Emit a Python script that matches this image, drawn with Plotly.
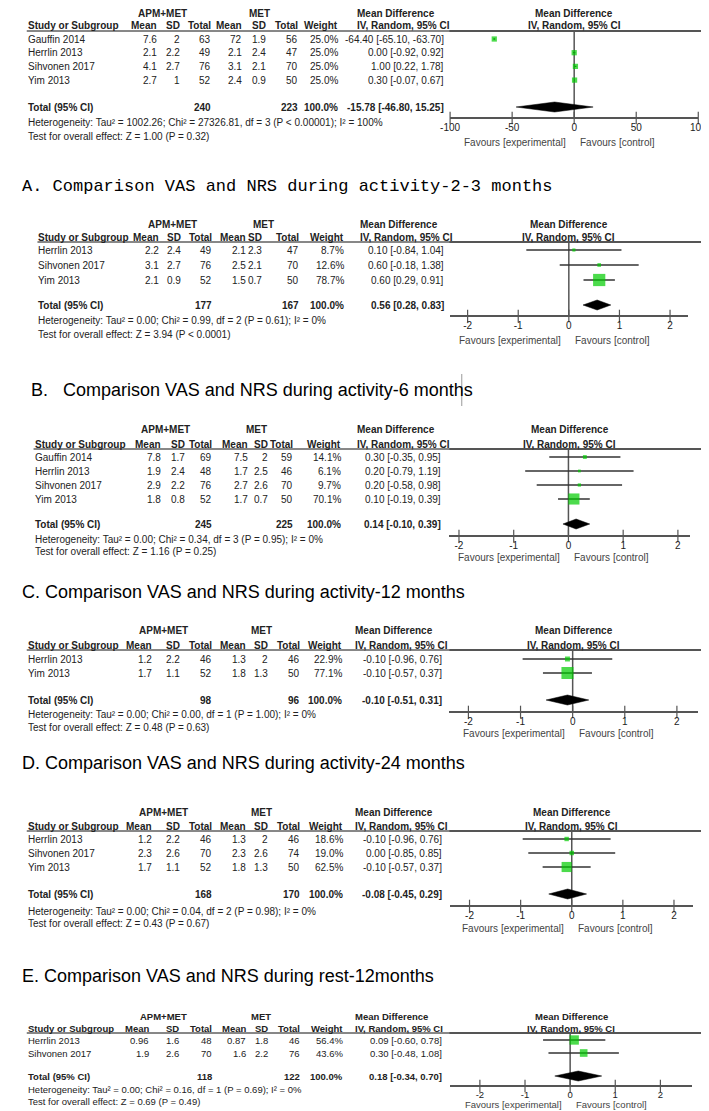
import plotly.graph_objects as go

W, H = 709, 1111

# ---------------- data ----------------
# Panel 0 (untitled, top)
p0_studies = ["Gauffin 2014", "Herrlin 2013", "Sihvonen 2017", "Yim 2013"]
p0_exp_mean = [7.6, 2.1, 4.1, 2.7]
p0_exp_sd = [2, 2.2, 2.7, 1]
p0_exp_n = [63, 49, 76, 52]
p0_ctl_mean = [72, 2.1, 3.1, 2.4]
p0_ctl_sd = [1.9, 2.4, 2.1, 0.9]
p0_ctl_n = [56, 47, 70, 50]
p0_weight = [25.0, 25.0, 25.0, 25.0]
p0_md = [-64.40, 0.00, 1.00, 0.30]
p0_lo = [-65.10, -0.92, 0.22, -0.07]
p0_hi = [-63.70, 0.92, 1.78, 0.67]
p0_total = [240, 223]
p0_pooled = [-15.78, -46.80, 15.25]
p0_het = "Heterogeneity: Tau² = 1002.26; Chi² = 27326.81, df = 3 (P < 0.00001); I² = 100%"
p0_test = "Test for overall effect: Z = 1.00 (P = 0.32)"
p0_ticks = [-100, -50, 0, 50, 100]

# Panel A
a_title = "A. Comparison VAS and NRS during activity-2-3 months"
a_studies = ["Herrlin 2013", "Sihvonen 2017", "Yim 2013"]
a_exp_mean = [2.2, 3.1, 2.1]
a_exp_sd = [2.4, 2.7, 0.9]
a_exp_n = [49, 76, 52]
a_ctl_mean = [2.1, 2.5, 1.5]
a_ctl_sd = [2.3, 2.1, 0.7]
a_ctl_n = [47, 70, 50]
a_weight = [8.7, 12.6, 78.7]
a_md = [0.10, 0.60, 0.60]
a_lo = [-0.84, -0.18, 0.29]
a_hi = [1.04, 1.38, 0.91]
a_total = [177, 167]
a_pooled = [0.56, 0.28, 0.83]
a_het = "Heterogeneity: Tau² = 0.00; Chi² = 0.99, df = 2 (P = 0.61); I² = 0%"
a_test = "Test for overall effect: Z = 3.94 (P < 0.0001)"

# Panel B
b_title = "B.\u00a0\u00a0\u00a0Comparison VAS and NRS during activity-6 months"
b_studies = ["Gauffin 2014", "Herrlin 2013", "Sihvonen 2017", "Yim 2013"]
b_exp_mean = [7.8, 1.9, 2.9, 1.8]
b_exp_sd = [1.7, 2.4, 2.2, 0.8]
b_exp_n = [69, 48, 76, 52]
b_ctl_mean = [7.5, 1.7, 2.7, 1.7]
b_ctl_sd = [2, 2.5, 2.6, 0.7]
b_ctl_n = [59, 46, 70, 50]
b_weight = [14.1, 6.1, 9.7, 70.1]
b_md = [0.30, 0.20, 0.20, 0.10]
b_lo = [-0.35, -0.79, -0.58, -0.19]
b_hi = [0.95, 1.19, 0.98, 0.39]
b_total = [245, 225]
b_pooled = [0.14, -0.10, 0.39]
b_het = "Heterogeneity: Tau² = 0.00; Chi² = 0.34, df = 3 (P = 0.95); I² = 0%"
b_test = "Test for overall effect: Z = 1.16 (P = 0.25)"

# Panel C
c_title = "C. Comparison VAS and NRS during activity-12 months"
c_studies = ["Herrlin 2013", "Yim 2013"]
c_exp_mean = [1.2, 1.7]
c_exp_sd = [2.2, 1.1]
c_exp_n = [46, 52]
c_ctl_mean = [1.3, 1.8]
c_ctl_sd = [2, 1.3]
c_ctl_n = [46, 50]
c_weight = [22.9, 77.1]
c_md = [-0.10, -0.10]
c_lo = [-0.96, -0.57]
c_hi = [0.76, 0.37]
c_total = [98, 96]
c_pooled = [-0.10, -0.51, 0.31]
c_het = "Heterogeneity: Tau² = 0.00; Chi² = 0.00, df = 1 (P = 1.00); I² = 0%"
c_test = "Test for overall effect: Z = 0.48 (P = 0.63)"

# Panel D
d_title = "D. Comparison VAS and NRS during activity-24 months"
d_studies = ["Herrlin 2013", "Sihvonen 2017", "Yim 2013"]
d_exp_mean = [1.2, 2.3, 1.7]
d_exp_sd = [2.2, 2.6, 1.1]
d_exp_n = [46, 70, 52]
d_ctl_mean = [1.3, 2.3, 1.8]
d_ctl_sd = [2, 2.6, 1.3]
d_ctl_n = [46, 74, 50]
d_weight = [18.6, 19.0, 62.5]
d_md = [-0.10, 0.00, -0.10]
d_lo = [-0.96, -0.85, -0.57]
d_hi = [0.76, 0.85, 0.37]
d_total = [168, 170]
d_pooled = [-0.08, -0.45, 0.29]
d_het = "Heterogeneity: Tau² = 0.00; Chi² = 0.04, df = 2 (P = 0.98); I² = 0%"
d_test = "Test for overall effect: Z = 0.43 (P = 0.67)"

# Panel E
e_title = "E. Comparison VAS and NRS during rest-12months"
e_studies = ["Herrlin 2013", "Sihvonen 2017"]
e_exp_mean = [0.96, 1.9]
e_exp_sd = [1.6, 2.6]
e_exp_n = [48, 70]
e_ctl_mean = [0.87, 1.6]
e_ctl_sd = [1.8, 2.2]
e_ctl_n = [46, 76]
e_weight = [56.4, 43.6]
e_md = [0.09, 0.30]
e_lo = [-0.60, -0.48]
e_hi = [0.78, 1.08]
e_total = [118, 122]
e_pooled = [0.18, -0.34, 0.70]
e_het = "Heterogeneity: Tau² = 0.00; Chi² = 0.16, df = 1 (P = 0.69); I² = 0%"
e_test = "Test for overall effect: Z = 0.69 (P = 0.49)"

small_ticks = [-2, -1, 0, 1, 2]
total_weight = 100.0

# --------------- build panel records from the arrays ---------------
def rec(title, studies, em, es, en, cm, cs, cn, w, md, lo, hi, tot, pooled, het, test, ticks):
    return dict(title=title, studies=studies, em=em, es=es, en=en, cm=cm, cs=cs, cn=cn,
                w=w, md=md, lo=lo, hi=hi, tot=tot, pooled=pooled, het=het, test=test, ticks=ticks)

data = [
    rec(None, p0_studies, p0_exp_mean, p0_exp_sd, p0_exp_n, p0_ctl_mean, p0_ctl_sd, p0_ctl_n,
        p0_weight, p0_md, p0_lo, p0_hi, p0_total, p0_pooled, p0_het, p0_test, p0_ticks),
    rec(a_title, a_studies, a_exp_mean, a_exp_sd, a_exp_n, a_ctl_mean, a_ctl_sd, a_ctl_n,
        a_weight, a_md, a_lo, a_hi, a_total, a_pooled, a_het, a_test, small_ticks),
    rec(b_title, b_studies, b_exp_mean, b_exp_sd, b_exp_n, b_ctl_mean, b_ctl_sd, b_ctl_n,
        b_weight, b_md, b_lo, b_hi, b_total, b_pooled, b_het, b_test, small_ticks),
    rec(c_title, c_studies, c_exp_mean, c_exp_sd, c_exp_n, c_ctl_mean, c_ctl_sd, c_ctl_n,
        c_weight, c_md, c_lo, c_hi, c_total, c_pooled, c_het, c_test, small_ticks),
    rec(d_title, d_studies, d_exp_mean, d_exp_sd, d_exp_n, d_ctl_mean, d_ctl_sd, d_ctl_n,
        d_weight, d_md, d_lo, d_hi, d_total, d_pooled, d_het, d_test, small_ticks),
    rec(e_title, e_studies, e_exp_mean, e_exp_sd, e_exp_n, e_ctl_mean, e_ctl_sd, e_ctl_n,
        e_weight, e_md, e_lo, e_hi, e_total, e_pooled, e_het, e_test, small_ticks),
]

# --------------- layout (pixel positions, styles) ---------------
geo = [
    dict(title_y=None, title_x=3, h1=5, h2=17, line=23, row0=31, step=13.7, total=99, axis=110,
         het=114, test=128, fav=134, sx=9, cols=[144, 167, 199, 231, 256, 289, 330], ci=439,
         cihdr=347, apm=148, met=248, dom=[444, 699], rng=[-100, 100]),
    dict(title_y=178, title_x=3, h1=216, h2=229, line=234, row0=242, step=15, total=297, axis=308,
         het=312, test=326, fav=332, sx=20, cols=[146, 168, 200, 235, 252, 290, 336], ci=439,
         cihdr=350, apm=159, met=252, dom=[444, 688], rng=[-2.346, 2.346]),
    dict(title_y=382, title_x=12, h1=421, h2=436, line=441, row0=449, step=14, total=516, axis=528,
         het=531, test=543, fav=549, sx=16, cols=[148, 173, 200, 237, 258, 284, 333], ci=436,
         cihdr=347, apm=152, met=245, dom=[443, 691], rng=[-2.18, 2.23]),
    dict(title_y=584, title_x=3, h1=622, h2=637, line=642, row0=651, step=14, total=692, axis=704,
         het=706, test=719, fav=725, sx=9, cols=[139, 167, 200, 235, 258, 291, 334], ci=437,
         cihdr=345, apm=149, met=250, dom=[443, 699], rng=[-2.37, 2.41]),
    dict(title_y=755, title_x=3, h1=804, h2=818, line=823, row0=831, step=14, total=886, axis=898,
         het=903, test=915, fav=920, sx=9, cols=[139, 167, 200, 235, 258, 291, 335], ci=437,
         cihdr=345, apm=150, met=250, dom=[444, 694], rng=[-2.38, 2.38]),
    dict(title_y=968, title_x=3, h1=1008, h2=1020, line=1025, row0=1032, step=13, total=1068, axis=1078,
         het=1081, test=1093, fav=1096, sx=9, cols=[136, 166, 200, 235, 258, 291, 335], ci=437,
         cihdr=345, apm=150, met=250, dom=[444, 693], rng=[-2.66, 2.71]),
]

SANS = "Liberation Sans, Arial, sans-serif"
MONO = "Liberation Mono, Courier New, monospace"
TXT = "#222222"
GREEN = "#00cc00"
AXC = "#555555"

fig = go.Figure()
ann = []
shapes = []


def T(x, y, text, anchor="left", size=10, bold=False, color=TXT, family=SANS,
      xref="x", yref="y", xshift=0):
    if bold:
        text = f"<b>{text}</b>"
    ann.append(dict(x=x, y=y, xref=xref, yref=yref, text=text, showarrow=False,
                    xanchor=anchor, yanchor="middle", xshift=xshift, borderpad=0,
                    font=dict(size=size, color=color, family=family)))


layout = dict(
    width=W, height=H, margin=dict(l=0, r=0, t=0, b=0),
    paper_bgcolor="white", plot_bgcolor="rgba(0,0,0,0)", showlegend=False,
    xaxis=dict(domain=[0, 1], range=[0, W], visible=False, fixedrange=True),
    yaxis=dict(domain=[0, 1], range=[H, 0], visible=False, fixedrange=True),
)

# invisible anchor trace for the canvas axes
fig.add_trace(go.Scatter(x=[0], y=[0], mode="markers", marker=dict(opacity=0),
                         hoverinfo="skip", showlegend=False))

for i, (d, g) in enumerate(zip(data, geo)):
    k = i + 2
    xr = f"x{k}"
    small = (i == 5)
    fs = 9.5 if small else 10

    # title
    if d["title"] is not None:
        fam = MONO if i == 1 else SANS
        sz = 17 if i == 1 else 18
        T(g["title_x"], g["title_y"], d["title"], size=sz, color="#000000", family=fam)

    # header row 1
    T(g["apm"], g["h1"], "APM+MET", anchor="center", bold=True, size=fs)
    T(g["met"], g["h1"], "MET", anchor="center", bold=True, size=fs)
    T(g["cihdr"], g["h1"], "Mean Difference", bold=True, size=fs)
    plot_c = (g["dom"][0] + g["dom"][1]) / 2
    T(plot_c, g["h1"], "Mean Difference", anchor="center", bold=True, size=fs)

    # header row 2
    T(g["sx"], g["h2"], "Study or Subgroup", bold=True, size=fs)
    for cx, lab in zip(g["cols"], ["Mean", "SD", "Total", "Mean", "SD", "Total", "Weight"]):
        T(cx, g["h2"], lab, anchor="right", bold=True, size=fs)
    T(g["cihdr"], g["h2"], "IV, Random, 95% CI", bold=True, size=fs)
    T(plot_c, g["h2"], "IV, Random, 95% CI", anchor="center", bold=True, size=fs)

    # header rules
    shapes.append(dict(type="line", xref="x", yref="y", x0=g["sx"], x1=443, y0=g["line"], y1=g["line"],
                       line=dict(color="#111111", width=1)))
    shapes.append(dict(type="line", xref="x", yref="y", x0=443, x1=W, y0=g["line"], y1=g["line"],
                       line=dict(color=AXC, width=2)))

    # study rows
    ys = [g["row0"] + j * g["step"] for j in range(len(d["studies"]))]
    for j, y in enumerate(ys):
        T(g["sx"], y, d["studies"][j], size=fs)
        vals = [d["em"][j], d["es"][j], d["en"][j], d["cm"][j], d["cs"][j], d["cn"][j]]
        for cx, v in zip(g["cols"][:6], vals):
            T(cx, y, str(v), anchor="right", size=fs)
        T(g["cols"][6], y, f"{d['w'][j]:.1f}%", anchor="right", size=fs)
        T(g["ci"], y, f"{d['md'][j]:.2f} [{d['lo'][j]:.2f}, {d['hi'][j]:.2f}]", anchor="right", size=fs)

    # total row
    T(g["sx"], g["total"], "Total (95% CI)", bold=True, size=fs)
    T(g["cols"][2], g["total"], str(d["tot"][0]), anchor="right", bold=True, size=fs)
    T(g["cols"][5], g["total"], str(d["tot"][1]), anchor="right", bold=True, size=fs)
    T(g["cols"][6], g["total"], f"{total_weight:.1f}%", anchor="right", bold=True, size=fs)
    pm, pl, ph = d["pooled"]
    T(g["ci"], g["total"], f"{pm:.2f} [{pl:.2f}, {ph:.2f}]", anchor="right", bold=True, size=fs)

    T(g["sx"], g["het"], d["het"], size=fs)
    T(g["sx"], g["test"], d["test"], size=fs)

    # forest axis
    layout[f"xaxis{k}"] = dict(
        domain=[g["dom"][0] / W, g["dom"][1] / W], range=g["rng"], anchor="free",
        position=1 - g["axis"] / H, showline=True, linecolor=AXC, linewidth=2,
        ticks="", tickvals=d["ticks"], ticktext=[str(t) for t in d["ticks"]],
        tickfont=dict(size=fs, color=TXT, family=SANS), showgrid=False, zeroline=False,
        fixedrange=True)

    # zero line
    fig.add_trace(go.Scatter(x=[0, 0], y=[g["line"], g["axis"]], mode="lines", xaxis=xr, yaxis="y",
                             line=dict(color=AXC, width=1.5), hoverinfo="skip", showlegend=False))
    # tick marks crossing the axis
    fig.add_trace(go.Scatter(x=d["ticks"], y=[g["axis"]] * len(d["ticks"]), mode="markers",
                             xaxis=xr, yaxis="y", cliponaxis=False,
                             marker=dict(symbol="line-ns-open", size=9, color=AXC,
                                         line=dict(color=AXC, width=1.2)),
                             hoverinfo="skip", showlegend=False))
    # confidence intervals
    cx_, cy_ = [], []
    for lo, hi, y in zip(d["lo"], d["hi"], ys):
        cx_ += [lo, hi, None]
        cy_ += [y, y, None]
    fig.add_trace(go.Scatter(x=cx_, y=cy_, mode="lines", xaxis=xr, yaxis="y",
                             line=dict(color="#333333", width=1.3), hoverinfo="skip", showlegend=False))
    # squares (size from weight)
    fig.add_trace(go.Scatter(x=d["md"], y=ys, mode="markers", xaxis=xr, yaxis="y", cliponaxis=False,
                             marker=dict(symbol="square", color=GREEN,
                                         size=[2 + 0.13 * w for w in d["w"]], line=dict(width=0)),
                             hoverinfo="skip", showlegend=False))
    # pooled diamond
    yt = g["total"]
    fig.add_trace(go.Scatter(x=[pl, pm, ph, pm, pl], y=[yt, yt - 5, yt, yt + 5, yt], mode="lines",
                             fill="toself", fillcolor="#000000", xaxis=xr, yaxis="y",
                             line=dict(color="#000000", width=0.5), hoverinfo="skip", showlegend=False))
    # favours labels
    T(0, g["fav"], "Favours [experimental]", anchor="right", xref=xr, xshift=-7,
      color="#444444", size=fs)
    T(0, g["fav"], "Favours [control]", anchor="left", xref=xr, xshift=5,
      color="#444444", size=fs)

# small cursor artifact next to title B
shapes.append(dict(type="line", xref="x", yref="y", x0=456, x1=456, y0=366, y1=398,
                   line=dict(color="#999999", width=1)))

layout["annotations"] = ann
layout["shapes"] = shapes
fig.update_layout(**layout)
fig.write_html("out.html")
